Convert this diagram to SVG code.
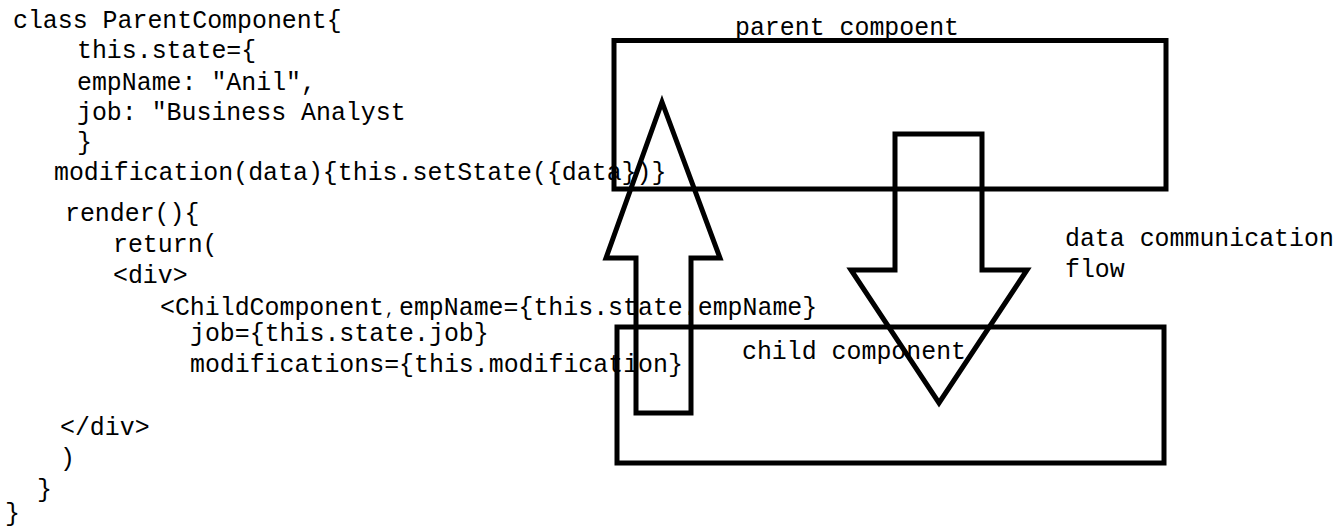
<svg xmlns="http://www.w3.org/2000/svg" width="1334" height="529" viewBox="0 0 1334 529">
<style>
.t{font-family:"Liberation Mono","DejaVu Sans Mono",monospace;font-size:24.9px;fill:#000}
.c{font-family:"Liberation Mono","DejaVu Sans Mono",monospace;font-size:16px;fill:#000}
.s{fill:none;stroke:#000;stroke-width:5;stroke-linejoin:miter}
</style>
<rect width="1334" height="529" fill="#fff"/>
<g id="code">
<text class="t" x="13" y="28">class ParentComponent{</text>
<text class="t" x="77" y="58">this.state={</text>
<text class="t" x="77" y="90">empName: "Anil",</text>
<text class="t" x="77" y="120">job: "Business Analyst</text>
<text class="t" x="77" y="150">}</text>
<text class="t" x="54" y="180">modification(data){this.setState({data})}</text>
<text class="t" x="65" y="221">render(){</text>
<text class="t" x="113" y="252">return(</text>
<text class="t" x="113" y="283">&lt;div&gt;</text>
<text class="t" x="160" y="315">&lt;ChildComponent</text>
<text class="c" x="385" y="315">,</text>
<text class="t" x="399" y="315">empName={this.state.empName}</text>
<text class="t" x="190" y="341">job={this.state.job}</text>
<text class="t" x="190" y="372">modifications={this.modification}</text>
<text class="t" x="60" y="435">&lt;/div&gt;</text>
<text class="t" x="60" y="466">)</text>
<text class="t" x="37" y="497">}</text>
<text class="t" x="5" y="521">}</text>
</g>
<g id="parent">
<rect class="s" x="614" y="40.5" width="552" height="148.5"/>
<text class="t" x="735" y="35">parent compoent</text>
</g>
<g id="child">
<rect class="s" x="617" y="327" width="547" height="136"/>
<text class="t" x="742" y="359">child component</text>
</g>
<g id="label">
<text class="t" x="1065" y="246">data communication</text>
<text class="t" x="1065" y="277">flow</text>
</g>
<g id="connectors">
<polygon class="s" points="662,102 720,258 691,258 691,413 636,413 636,258 606,258"/>
<polygon class="s" points="895,134 982,134 982,270 1027,270 939,403 851,270 895,270"/>
</g>
</svg>
